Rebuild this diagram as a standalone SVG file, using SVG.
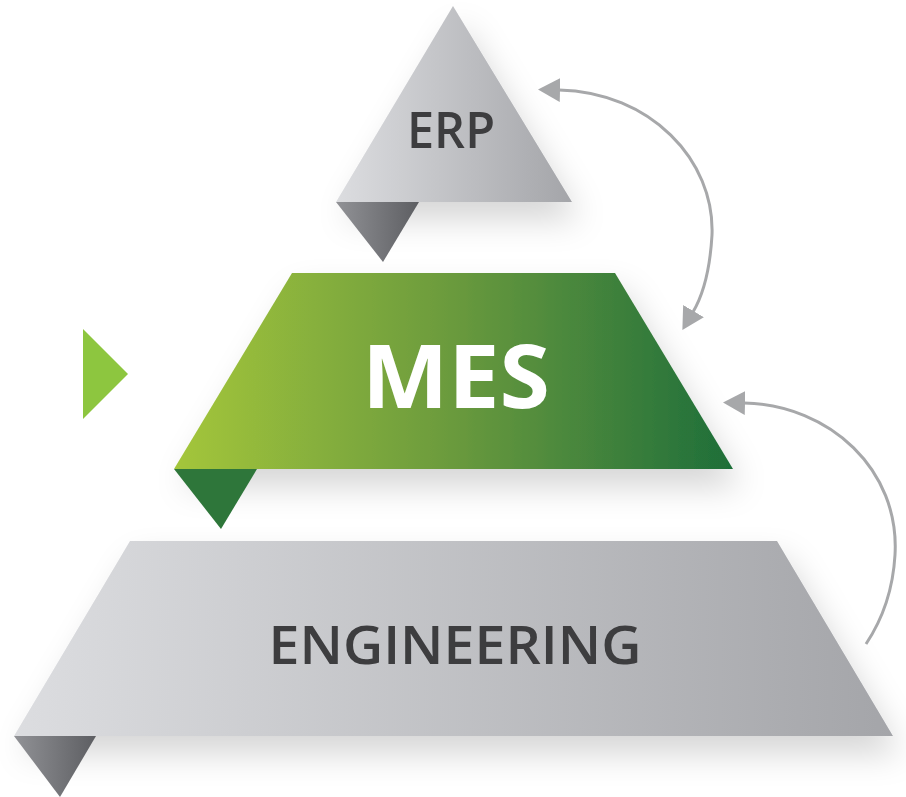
<svg xmlns="http://www.w3.org/2000/svg" width="906" height="797" viewBox="0 0 906 797">
<style>
.lbl{font-family:"Open Sans","Liberation Sans",sans-serif;font-weight:600;fill:#3d3d3f;text-anchor:middle}
.mes{font-family:"Open Sans","Liberation Sans",sans-serif;font-weight:700;fill:#ffffff;text-anchor:middle}
.conn{fill:none;stroke:#a7a8aa;stroke-width:3;marker-start:url(#ah);marker-end:url(#ah)}
</style>
<defs>
<linearGradient id="gGrey" x1="0" y1="0" x2="1" y2="0">
<stop offset="0" stop-color="#dcdde0"/><stop offset="1" stop-color="#a4a5a9"/>
</linearGradient>
<linearGradient id="gFold" x1="0" y1="0" x2="1" y2="0">
<stop offset="0" stop-color="#919296"/><stop offset="1" stop-color="#5d5e62"/>
</linearGradient>
<linearGradient id="gGreen" x1="0" y1="0" x2="1" y2="0">
<stop offset="0" stop-color="#a4c63a"/><stop offset="0.5" stop-color="#6a9a3e"/><stop offset="1" stop-color="#1e6e39"/>
</linearGradient>
<filter id="sh" x="-30%" y="-30%" width="160%" height="180%">
<feDropShadow dx="8" dy="18" stdDeviation="16" flood-color="#000" flood-opacity="0.16"/>
</filter>
<marker id="ah" viewBox="0 0 22 24" refX="1" refY="12" markerWidth="22" markerHeight="24" markerUnits="userSpaceOnUse" orient="auto-start-reverse">
<path d="M0 0 L22 12 L0 24 Z" fill="#a7a8aa"/>
</marker>
</defs>
<rect width="906" height="797" fill="#ffffff"/>

<g id="engineering">
<polygon points="130,541 777,541 893,736 14,736" fill="url(#gGrey)" filter="url(#sh)"/>
<polygon points="14,736 96,736 60,797" fill="url(#gFold)"/>
<text class="lbl" x="455" y="664" font-size="53" textLength="373" lengthAdjust="spacingAndGlyphs">ENGINEERING</text>
</g>

<g id="mes">
<polygon points="292,273 615,273 733,469 174,469" fill="url(#gGreen)" filter="url(#sh)"/>
<polygon points="174,469 257,469 221,529" fill="#2e763a"/>
<text class="mes" x="456" y="408" font-size="88" textLength="188" lengthAdjust="spacingAndGlyphs">MES</text>
</g>

<g id="erp">
<polygon points="453,6 572,202 336,202" fill="url(#gGrey)" filter="url(#sh)"/>
<polygon points="336,202 419,202 383,262" fill="url(#gFold)"/>
<text class="lbl" x="451" y="148" font-size="50" textLength="88" lengthAdjust="spacingAndGlyphs">ERP</text>
</g>

<g id="pointer">
<polygon points="83,329 128,374 83,419" fill="#8dc63f"/>
</g>

<g id="connectors">
<path class="conn" d="M 559 90 C 650 92, 715 160, 712 235 C 710 270, 703 295, 693 312"/>
<path class="conn" d="M 744 403 C 830 405, 900 470, 895 555 C 893 590, 882 620, 866 644" style="marker-end:none"/>
</g>
</svg>
